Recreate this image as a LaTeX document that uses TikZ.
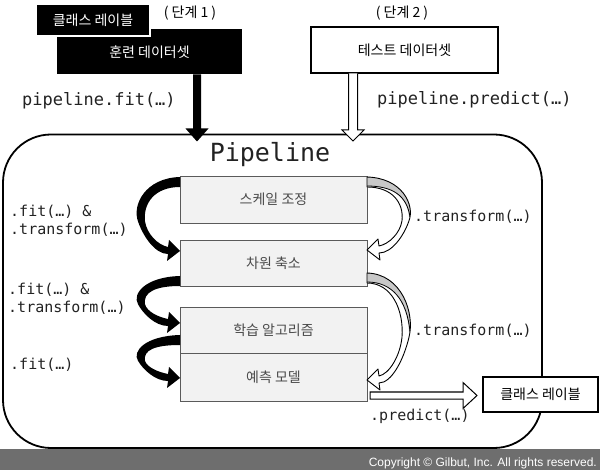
\documentclass[tikz,border=0pt]{standalone}
\usepackage{fontspec}
\setmainfont{Liberation Sans}
\newfontfamily\krf{Noto Sans CJK KR}
\newfontfamily\monof{DejaVu Sans Mono}
\usetikzlibrary{calc}
\definecolor{boxfill}{HTML}{F2F2F2}
\definecolor{boxline}{HTML}{5A5A5A}
\definecolor{boxtext}{HTML}{4A4A4A}
\definecolor{ribgray}{HTML}{C8C8C8}
\definecolor{bandgray}{HTML}{6E6E6E}
\definecolor{codetext}{HTML}{222222}
\begin{document}
\begin{tikzpicture}[x=1pt,y=-1pt,
 kr/.style={font=\krf\fontsize{14}{16}\selectfont},
 stage/.style={draw=boxline, line width=0.9pt, fill=boxfill, minimum width=187pt, inner sep=0pt, outer sep=0pt, text=boxtext, kr},
 code/.style={font=\monof\fontsize{15}{18}\selectfont, text=codetext, inner sep=0pt, anchor=west, align=left},
 bigcode/.style={font=\monof\fontsize{17}{20}\selectfont, text=codetext, inner sep=0pt, anchor=west},
 ribshape/.style={insert path={(0,0) .. controls (-35,1) and (-48,{0.38*#1}) .. (-42,{0.6*#1}) .. controls (-37,{0.8*#1}) and (-25,{#1+3}) .. (-12,{#1+3}) -- (-13,{#1+10}) -- (0,#1) -- (-11,{#1-11}) -- (-12,{#1-4}) .. controls (-22,{#1-6}) and (-33,{0.8*#1-2}) .. (-35,{0.6*#1}) .. controls (-37,{0.35*#1}) and (-25,10) .. (0,10) -- cycle}},
]
\useasboundingbox (0,0) rectangle (600,470);
% bottom band
\fill[bandgray] (0,449) rectangle (600,470);
\node[anchor=east, text=white, font=\fontsize{12}{14}\selectfont, inner sep=0pt] (copy) at (597,463) {Copyright © Gilbut, Inc. All rights reserved.};

% pipeline container
\node[draw, line width=1.8pt, rounded corners=48pt, minimum width=539pt, minimum height=313.5pt, inner sep=0pt, outer sep=0pt, anchor=north west] (pipe) at (3,134.5) {};
\node[font=\monof\fontsize{25}{28}\selectfont, text=codetext] (ptitle) at (270,155) {Pipeline};

% top boxes
\node[fill=black, minimum width=185pt, minimum height=45pt, inner sep=0pt, outer sep=0pt, text=white, kr] (train) at (149.5,52) {훈련 데이터셋};
\node[fill=black, draw=white, line width=1.5pt, minimum width=114pt, minimum height=32pt, inner sep=0pt, text=white, kr] (lbl) at (93,20) {클래스 레이블};
\node[draw, line width=1.2pt, fill=white, minimum width=187pt, minimum height=46pt, inner sep=0pt, outer sep=0pt, kr] (test) at (404.5,50) {테스트 데이터셋};
\node[font=\krf\fontsize{14}{16}\selectfont] (st1) at (190,13) {( 단계 1 )};
\node[font=\krf\fontsize{14}{16}\selectfont] (st2) at (402,13) {( 단계 2 )};

\node[bigcode] (fitlbl) at (22,101) {pipeline.fit(…)};
\node[bigcode] (predlbl) at (377,100) {pipeline.predict(…)};

% stages
\node[stage, minimum height=47pt] (b1) at (273.5,199.5) {스케일 조정};
\node[stage, minimum height=46pt] (b2) at (273.5,263) {차원 축소};
\node[stage, minimum height=46pt] (b3) at (273.5,330) {학습 알고리즘};
\node[stage, minimum height=48pt] (b4) at (273.5,377) {예측 모델};

% left black ribbons
\begin{scope}[shift={($(b1.north west)+(0,1)$)}]
 \fill[black, ribshape=74];
\end{scope}
\begin{scope}[shift={($(b2.south west)+(0,-10)$)}]
 \fill[black, ribshape=47];
\end{scope}
\begin{scope}[shift={($(b3.south west)+(0,-18)$)}]
 \fill[black, ribshape=43];
\end{scope}

% right hollow ribbons
\newcommand\rribbon[2]{%
\begin{scope}[shift={#1}, xscale=-1]
 \fill[white, ribshape=#2];
 \begin{scope}
  \clip[ribshape=#2];
  \fill[ribgray] (5,-5) -- (-60,-5) -- (-60,{0.55*#2}) -- (-42,{0.55*#2}) .. controls (-40,{0.25*#2}) and (-25,9) .. (0,9) -- cycle;
  \draw[line width=0.8pt] (-43,{0.55*#2}) .. controls (-40,{0.25*#2}) and (-25,9) .. (0,9);
 \end{scope}
 \draw[line width=0.9pt, line join=round, ribshape=#2];
\end{scope}}
\rribbon{($(b1.north east)+(0,1)$)}{73}
\rribbon{($(b2.north east)+(0,33)$)}{107}

% arrows in/out
\begin{scope}[shift={($(train.south west)+(140,0)$)}]
 \fill[black] (-4,0) -- (-4,54) -- (-11.5,54) -- (0,67) -- (11.5,54) -- (4,54) -- (4,0) -- cycle;
\end{scope}
\begin{scope}[shift={($(test.south west)+(42,0)$)}]
 \draw[line width=1pt, fill=white, line join=miter] (-4.5,0.5) -- (-4.5,57) -- (-11,57) -- (0,68) -- (11,57) -- (4.5,57) -- (4.5,0.5);
\end{scope}
\begin{scope}[shift={($(b4.south east)+(3,-5.5)$)}]
 \draw[line width=1pt, fill=white] (0,-3.5) -- (93,-3.5) -- (93,-13) -- (107,0) -- (93,13) -- (93,3.5) -- (0,3.5) -- cycle;
\end{scope}
\node[draw, line width=1.2pt, fill=white, minimum width=115pt, minimum height=35pt, inner sep=0pt, kr] (cls) at (540.5,394.5) {클래스 레이블};

% code labels
\node[code] (l1) at (10,221) {.fit(…) \&\\.transform(…)};
\node[code] (l2) at (8,299) {.fit(…) \&\\.transform(…)};
\node[code] (l3) at (10,365) {.fit(…)};
\node[code] (r1) at (414,217) {.transform(…)};
\node[code] (r2) at (414,331) {.transform(…)};
\node[code] (p1) at (370,416) {.predict(…)};
\end{tikzpicture}
\end{document}
